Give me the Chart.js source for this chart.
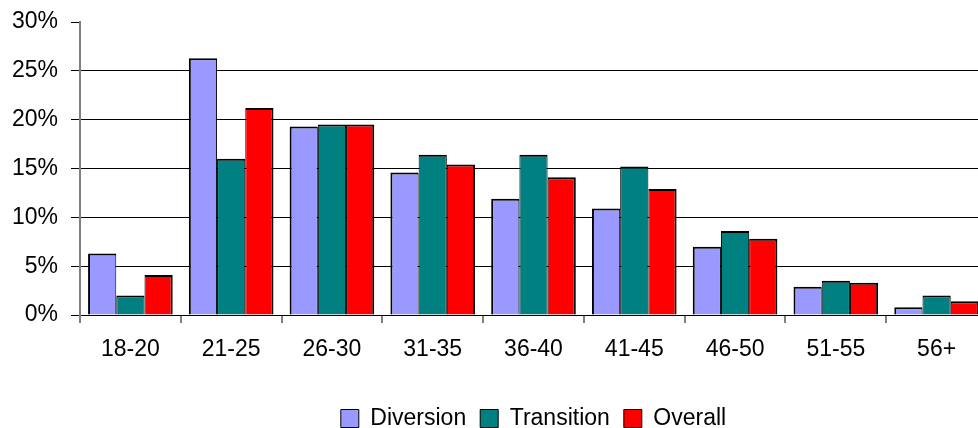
<!DOCTYPE html>
<html>
<head>
<meta charset="utf-8">
<title>Age distribution</title>
<style>
  html, body { margin: 0; padding: 0; background: #fff; overflow: hidden; }
  #wrap { width: 978px; height: 428px; overflow: hidden; position: relative; }
  canvas { display: block; }
</style>
<script src="https://cdn.jsdelivr.net/npm/chart.js@4/dist/chart.umd.min.js"></script>
</head>
<body>
<div id="wrap"><canvas id="ageChart" width="987" height="440"></canvas></div>
<script>
// Age bands and share of people in each band (percent)
const ageGroups = ['18-20', '21-25', '26-30', '31-35', '36-40', '41-45', '46-50', '51-55', '56+'];
const diversion = [6.3, 26.3, 19.3, 14.6, 11.9, 10.9, 7.0, 2.9, 0.8];
const transition = [2.0, 16.0, 19.5, 16.4, 16.4, 15.2, 8.6, 3.5, 2.0];
const overall = [4.1, 21.2, 19.5, 15.4, 14.1, 12.9, 7.8, 3.3, 1.4];
const percentTicks = [0, 5, 10, 15, 20, 25, 30];

Chart.defaults.font.family = "'Liberation Sans', Arial, sans-serif";
Chart.defaults.font.size = 23;
Chart.defaults.color = '#000';

new Chart(document.getElementById('ageChart'), {
  type: 'bar',
  data: {
    labels: ageGroups,
    datasets: [
      { label: 'Diversion', data: diversion, backgroundColor: '#9999FF',
        borderColor: '#000', borderWidth: { top: 2, left: 2, right: 1, bottom: 0 } },
      { label: 'Transition', data: transition, backgroundColor: '#008080',
        borderColor: '#000', borderWidth: { top: 2, left: 1, right: 1, bottom: 0 } },
      { label: 'Overall', data: overall, backgroundColor: '#FF0000',
        borderColor: '#000', borderWidth: { top: 2, left: 1, right: 2, bottom: 0 } }
    ]
  },
  options: {
    responsive: false,
    animation: false,
    devicePixelRatio: 1,
    layout: { padding: { top: 22, left: 0, right: 0, bottom: 0 } },
    datasets: { bar: { categoryPercentage: 0.84, barPercentage: 1.0 } },
    scales: {
      x: {
        grid: { offset: true, drawOnChartArea: false, color: '#808080', tickLength: 8, lineWidth: 2 },
        border: { color: '#000', width: 1 },
        ticks: { padding: 13, font: { size: 23 } },
        afterFit: s => { s.height = 78; }
      },
      y: {
        min: 0,
        max: 30,
        afterBuildTicks: s => { s.ticks = percentTicks.map(v => ({ value: v })); },
        ticks: { padding: 13, font: { size: 23 }, callback: v => v + '%' },
        grid: {
          color: ctx => (ctx.tick && ctx.tick.value === 30) ? 'rgba(0,0,0,0)' : '#000',
          tickColor: '#000',
          tickLength: 9,
          lineWidth: 1
        },
        border: { color: '#808080', width: 2 },
        afterFit: s => { s.width = 80; s.paddingTop = 0; s.paddingBottom = 0; }
      }
    },
    plugins: {
      tooltip: { enabled: false },
      legend: {
        position: 'bottom',
        fullSize: false,
        labels: {
          boxWidth: 18,
          boxHeight: 18,
          padding: 14,
          color: '#000',
          font: { size: 23 },
          generateLabels: chart =>
            Chart.defaults.plugins.legend.labels.generateLabels(chart)
              .map(item => Object.assign(item, { lineWidth: 1, strokeStyle: '#000' }))
        }
      }
    }
  }
});
</script>
</body>
</html>
